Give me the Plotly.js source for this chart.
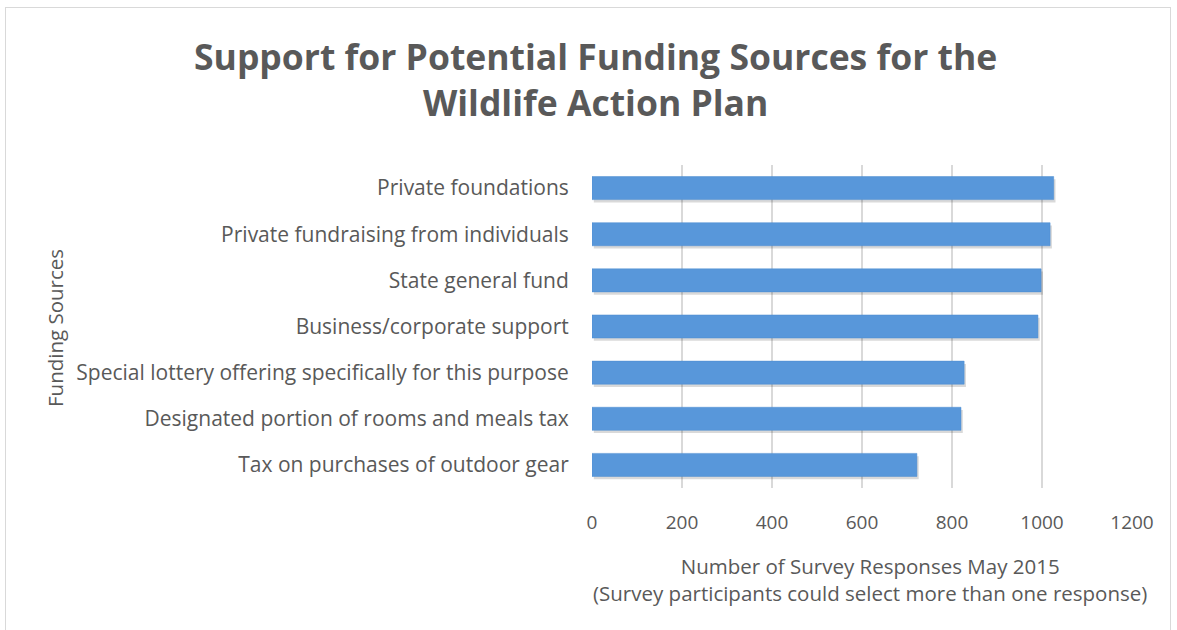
<!DOCTYPE html>
<html>
<head>
<meta charset="utf-8">
<script src="https://cdn.plot.ly/plotly-3.0.1.min.js"></script>
<style>
  html, body { margin: 0; padding: 0; background: #ffffff; }
  #frame { position: absolute; left: 5px; top: 7px; width: 1166px; height: 640px; border: 1px solid #d9d9d9; box-sizing: border-box; }
  #chart { position: absolute; left: 0; top: 0; width: 1177px; height: 630px; }
</style>
</head>
<body>
<div id="frame"></div>
<div id="chart"></div>
<script>
const categories = [
  "Tax on purchases of outdoor gear",
  "Designated portion of rooms and meals tax",
  "Special lottery offering specifically for this purpose",
  "Business/corporate support",
  "State general fund",
  "Private fundraising from individuals",
  "Private foundations"
];
const responses = [722, 820, 827, 991, 998, 1018, 1026];
const tickValues = [0, 200, 400, 600, 800, 1000, 1200];

const titleText = "<b>Support for Potential Funding Sources for the<br>Wildlife Action Plan</b>";
const xTitleText = "Number of Survey Responses May 2015<br>(Survey participants could select more than one response)";
const yTitleText = "Funding Sources";

const font = "'Open Sans', 'DejaVu Sans', sans-serif";
const grey = "#595959";

const data = [
  {
    type: "bar",
    orientation: "h",
    y: categories,
    x: responses,
    width: 0.5,
    offset: -0.31,
    base: 4,
    marker: { color: "rgba(0,0,0,0.15)", line: { width: 0 } },
    hoverinfo: "skip"
  },
  {
    type: "bar",
    orientation: "h",
    y: categories,
    x: responses,
    width: 0.5,
    offset: -0.25,
    marker: { color: "#5897da", line: { color: "#4d8dd1", width: 0.5 } },
    hoverinfo: "x+y"
  }
];

const layout = {
  width: 1177, height: 630,
  paper_bgcolor: "rgba(0,0,0,0)",
  plot_bgcolor: "rgba(0,0,0,0)",
  margin: { l: 592, r: 45, t: 165, b: 142 },
  showlegend: false,
  barmode: "overlay",
  xaxis: {
    range: [0, 1200],
    tickvals: tickValues,
    ticktext: tickValues.map(String),
    showgrid: true, gridcolor: "#d9d9d9", gridwidth: 1.5,
    zeroline: false, showline: false,
    ticks: "outside", ticklen: 17, tickcolor: "rgba(0,0,0,0)",
    tickfont: { family: font, size: 19, color: grey },
    automargin: false
  },
  yaxis: {
    type: "category",
    showgrid: false, zeroline: false, showline: false,
    ticks: "outside", ticklen: 18, tickcolor: "rgba(0,0,0,0)",
    tickfont: { family: font, size: 21, color: grey },
    automargin: false
  },
  annotations: [
    {
      text: titleText, showarrow: false,
      xref: "paper", yref: "paper",
      x: -(592 - 595) / 540, y: 1 + (165 - 30) / 323,
      xanchor: "center", yanchor: "top",
      font: { family: font, size: 35.5, color: grey }
    },
    {
      text: xTitleText, showarrow: false,
      xref: "paper", yref: "paper",
      x: (870 - 592) / 540, y: -(550 - 488) / 323,
      xanchor: "center", yanchor: "top",
      font: { family: font, size: 20.5, color: grey }
    },
    {
      text: yTitleText, showarrow: false, textangle: -90,
      xref: "paper", yref: "paper",
      x: -(592 - 55) / 540, y: (488 - 328) / 323,
      xanchor: "center", yanchor: "middle",
      font: { family: font, size: 20.5, color: grey }
    }
  ]
};

Plotly.newPlot("chart", data, layout, { displayModeBar: false, staticPlot: true });
</script>
</body>
</html>
